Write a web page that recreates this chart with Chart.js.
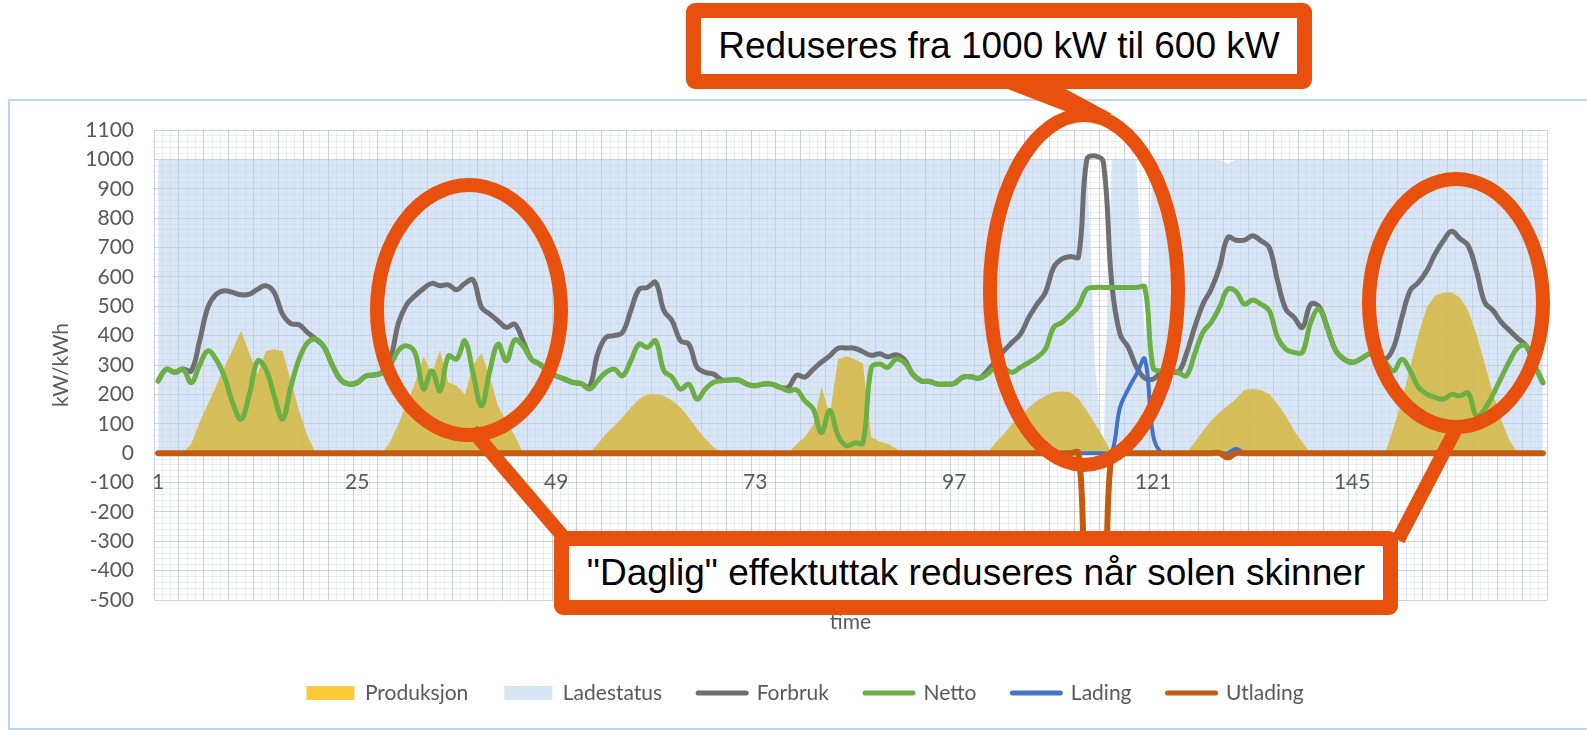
<!DOCTYPE html>
<html>
<head>
<meta charset="utf-8">
<script src="https://cdn.jsdelivr.net/npm/chart.js@4.4.1/dist/chart.umd.min.js"></script>
<style>
body { margin: 0; background: #fff; }
#wrap { position: relative; width: 1587px; height: 730px; overflow: hidden; background: #fff; }
#frame { position: absolute; left: 8px; top: 99px; width: 1600px; height: 627px; border: 2px solid #bdd5ee; }
#myChart { position: absolute; left: 0; top: 0; }
#marks { position: absolute; left: 0; top: 0; }
.callout { position: absolute; box-sizing: border-box; background: #fff; border: 15px solid #e8500e; border-radius: 9px;
  font-family: 'Liberation Sans', Arial, sans-serif; font-size: 37px; color: #000;
  display: flex; align-items: center; justify-content: center; white-space: nowrap; }
</style>
</head>
<body>
<div id="wrap">
  <div id="frame"></div>
  <canvas id="myChart" width="1587" height="730"></canvas>
  <svg id="marks" width="1587" height="730">
    <g fill="none" stroke="#e8500e" stroke-width="14">
      <ellipse cx="469" cy="310" rx="92" ry="125"/>
      <ellipse cx="1084" cy="290" rx="94" ry="175"/>
      <ellipse cx="1456" cy="303" rx="87" ry="124"/>
      <line x1="472" y1="430" x2="566" y2="540"/>
      <line x1="1458" y1="425" x2="1398" y2="540"/>
    </g>
    <polygon points="1000,86 1060,86 1112,114 1088,120" fill="#e8500e"/>
  </svg>
  <div class="callout" style="left:686px; top:3px; width:626px; height:86px;">Reduseres fra 1000 kW til 600 kW</div>
  <div class="callout" style="left:554px; top:531px; width:844px; height:84px;">"Daglig" effektuttak reduseres når solen skinner</div>
</div>
<script>
const hours = []
for (let i = 1; i <= 168; i++) hours.push(String(i))

const tickHours = ['1', '25', '49', '73', '97', '121', '145']

// one row per day, 24 hours each
const produksjon = [
    0, 0, 0, 0, 33, 104, 167, 229, 292, 354, 417, 340, 269, 348, 354, 348, 246, 144, 59, 0, 0, 0, 0, 0,
    0, 0, 0, 0, 40, 100, 170, 240, 330, 270, 350, 240, 230, 200, 300, 340, 260, 160, 110, 60, 0, 0, 0, 0,
    0, 0, 0, 0, 0, 30, 65, 92, 121, 155, 184, 199, 201, 195, 178, 155, 121, 82, 48, 19, 0, 0, 0, 0,
    0, 0, 0, 0, 0, 30, 55, 95, 225, 130, 320, 330, 320, 305, 55, 40, 32, 15, 0, 0, 0, 0, 0, 0,
    0, 0, 0, 0, 0, 36, 65, 99, 127, 155, 178, 195, 207, 210, 207, 185, 144, 99, 53, 0, 0, 0, 0, 0,
    0, 0, 0, 0, 0, 36, 76, 110, 138, 161, 184, 215, 218, 215, 201, 167, 127, 76, 36, 0, 0, 0, 0, 0,
    0, 0, 0, 0, 0, 87, 178, 292, 405, 496, 536, 547, 547, 530, 485, 405, 303, 201, 110, 42, 0, 0, 0, 0
]

const ladestatus = [
    1000, 1000, 1000, 1000, 1000, 1000, 1000, 1000, 1000, 1000, 1000, 1000, 1000, 1000, 1000, 1000, 1000, 1000, 1000, 1000, 1000, 1000, 1000, 1000,
    1000, 1000, 1000, 1000, 1000, 1000, 1000, 1000, 1000, 1000, 1000, 1000, 1000, 1000, 1000, 1000, 1000, 1000, 1000, 1000, 1000, 1000, 1000, 1000,
    1000, 1000, 1000, 1000, 1000, 1000, 1000, 1000, 1000, 1000, 1000, 1000, 1000, 1000, 1000, 1000, 1000, 1000, 1000, 1000, 1000, 1000, 1000, 1000,
    1000, 1000, 1000, 1000, 1000, 1000, 1000, 1000, 1000, 1000, 1000, 1000, 1000, 1000, 1000, 1000, 1000, 1000, 1000, 1000, 1000, 1000, 1000, 1000,
    1000, 1000, 1000, 1000, 1000, 1000, 1000, 1000, 1000, 1000, 1000, 1000, 1000, 1000, 1000, 1000, 1000, 300, 0, 1000, 1000, 1000, 1000, 380,
    1000, 1000, 1000, 1000, 1000, 1000, 1000, 1000, 1000, 985, 1000, 1000, 1000, 1000, 1000, 1000, 1000, 1000, 1000, 1000, 1000, 1000, 1000, 1000,
    1000, 1000, 1000, 1000, 1000, 1000, 1000, 1000, 1000, 1000, 1000, 1000, 1000, 1000, 1000, 1000, 1000, 1000, 1000, 1000, 1000, 1000, 1000, 1000
]

const forbruk = [
    246, 286, 275, 286, 280, 382, 496, 541, 553, 547, 539, 541, 558, 570, 547, 473, 441, 437, 411, 388, 362, 300, 250, 235,
    240, 262, 266, 275, 320, 445, 507, 536, 560, 578, 570, 573, 556, 578, 589, 496, 473, 450, 428, 439, 382, 320, 303, 280,
    263, 252, 241, 237, 225, 337, 394, 400, 411, 485, 558, 564, 581, 485, 450, 382, 371, 292, 275, 269, 249, 249, 249, 235,
    229, 235, 235, 224, 224, 265, 259, 285, 310, 331, 357, 358, 357, 345, 333, 338, 328, 335, 318, 269, 246, 244, 235, 235,
    237, 258, 260, 255, 280, 314, 348, 377, 405, 462, 507, 547, 632, 661, 669, 668, 1000, 1012, 990, 580, 405, 360, 292, 255,
    252, 275, 283, 275, 337, 428, 507, 558, 632, 734, 725, 725, 740, 723, 700, 587, 490, 462, 428, 507, 499, 428, 350, 320,
    309, 320, 337, 337, 320, 360, 462, 553, 581, 621, 678, 723, 755, 730, 706, 620, 513, 485, 445, 417, 390, 365, 300, 240
]

const netto = [
    246, 286, 275, 286, 240, 300, 348, 318, 260, 170, 116, 200, 314, 285, 195, 116, 225, 320, 375, 388, 362, 300, 250, 235,
    240, 262, 266, 272, 300, 350, 365, 340, 218, 280, 212, 330, 320, 382, 269, 161, 280, 371, 314, 385, 365, 320, 303, 280,
    263, 252, 241, 237, 218, 246, 275, 286, 263, 314, 371, 360, 382, 280, 258, 218, 235, 184, 218, 241, 246, 249, 249, 235,
    229, 235, 235, 224, 212, 215, 178, 150, 70, 145, 60, 25, 35, 35, 290, 303, 292, 320, 309, 269, 246, 244, 235, 235,
    237, 258, 260, 255, 269, 292, 289, 275, 292, 309, 326, 354, 428, 445, 470, 500, 558, 564, 564, 564, 564, 564, 564, 564,
    290, 280, 283, 275, 263, 337, 411, 445, 496, 558, 550, 507, 521, 507, 485, 394, 354, 343, 343, 445, 490, 425, 350, 320,
    309, 320, 337, 337, 309, 280, 320, 280, 224, 201, 190, 184, 200, 195, 205, 125, 150, 201, 258, 314, 360, 365, 300, 240
]

const lading = [
    0, 0, 0, 0, 0, 0, 0, 0, 0, 0, 0, 0, 0, 0, 0, 0, 0, 0, 0, 0, 0, 0, 0, 0,
    0, 0, 0, 0, 0, 0, 0, 0, 0, 0, 0, 0, 0, 0, 0, 0, 0, 0, 0, 0, 0, 0, 0, 0,
    0, 0, 0, 0, 0, 0, 0, 0, 0, 0, 0, 0, 0, 0, 0, 0, 0, 0, 0, 0, 0, 0, 0, 0,
    0, 0, 0, 0, 0, 0, 0, 0, 0, 0, 0, 0, 0, 0, 0, 0, 0, 0, 0, 0, 0, 0, 0, 0,
    0, 0, 0, 0, 0, 0, 0, 0, 0, 0, 0, 0, 0, 0, 0, 0, 0, 0, 0, 0, 155, 218, 269, 320,
    60, 0, 0, 0, 0, 0, 0, 0, 0, 0, 15, 0, 0, 0, 0, 0, 0, 0, 0, 0, 0, 0, 0, 0,
    0, 0, 0, 0, 0, 0, 0, 0, 0, 0, 0, 0, 0, 0, 0, 0, 0, 0, 0, 0, 0, 0, 0, 0
]

const utlading = [
    0, 0, 0, 0, 0, 0, 0, 0, 0, 0, 0, 0, 0, 0, 0, 0, 0, 0, 0, 0, 0, 0, 0, 0,
    0, 0, 0, 0, 0, 0, 0, 0, 0, 0, 0, 0, 0, 0, 0, 0, 0, 0, 0, 0, 0, 0, 0, 0,
    0, 0, 0, 0, 0, 0, 0, 0, 0, 0, 0, 0, 0, 0, 0, 0, 0, 0, 0, 0, 0, 0, 0, 0,
    0, 0, 0, 0, 0, 0, 0, 0, 0, 0, 0, 0, 0, 0, 0, 0, 0, 0, 0, 0, 0, 0, 0, 0,
    0, 0, 0, 0, 0, 0, 0, 0, 0, 0, 0, 0, 0, 0, 0, 0, -450, -450, -450, 0, 0, 0, 0, 0,
    0, 0, 0, 0, 0, 0, 0, 0, 0, -15, 0, 0, 0, 0, 0, 0, 0, 0, 0, 0, 0, 0, 0, 0,
    0, 0, 0, 0, 0, 0, 0, 0, 0, 0, 0, 0, 0, 0, 0, 0, 0, 0, 0, 0, 0, 0, 0, 0
]

const textColor = '#595959'
const font = { family: 'Lato', size: 21 }
const gridMajor = 'rgba(140,150,165,0.42)'
const gridMinor = 'rgba(160,170,185,0.2)'

const legendLook = [
    { fillStyle: '#fccb3c', strokeStyle: '#fccb3c', lineWidth: 0, pointStyle: 'rect' },
    { fillStyle: '#d6e5f4', strokeStyle: '#d6e5f4', lineWidth: 0, pointStyle: 'rect' },
    { fillStyle: '#6f6f72', strokeStyle: '#6f6f72', lineWidth: 5, pointStyle: 'line' },
    { fillStyle: '#6cb045', strokeStyle: '#6cb045', lineWidth: 5, pointStyle: 'line' },
    { fillStyle: '#4472c4', strokeStyle: '#4472c4', lineWidth: 5, pointStyle: 'line' },
    { fillStyle: '#c55a11', strokeStyle: '#c55a11', lineWidth: 5, pointStyle: 'line' }
]

const lineSet = (label, data, color, width, order) => ({
    label: label,
    data: data,
    borderColor: color,
    backgroundColor: color,
    borderWidth: width,
    pointRadius: 0,
    tension: 0.4,
    fill: false,
    borderCapStyle: 'round',
    borderJoinStyle: 'round',
    order: order
})

const ctx = document.getElementById('myChart').getContext('2d')
const myChart = new Chart(ctx, {
    type: 'line',
    data: {
        labels: hours,
        datasets: [{
            label: 'Produksjon',
            data: produksjon,
            borderColor: 'rgba(0,0,0,0)',
            borderWidth: 0,
            backgroundColor: 'rgba(214,186,70,0.88)',
            pointRadius: 0,
            tension: 0,
            fill: 'origin',
            order: 5
        }, {
            label: 'Ladestatus',
            data: ladestatus,
            borderColor: 'rgba(0,0,0,0)',
            borderWidth: 0,
            backgroundColor: 'rgba(185,210,238,0.55)',
            pointRadius: 0,
            tension: 0,
            fill: 'origin',
            order: 6
        },
        lineSet('Forbruk', forbruk, '#6f6f72', 5, 4),
        lineSet('Netto', netto, '#6cb045', 5, 3),
        lineSet('Lading', lading, '#4472c4', 4, 2),
        lineSet('Utlading', utlading, '#c55a11', 6, 1)]
    },
    options: {
        responsive: false,
        animation: false,
        devicePixelRatio: 1,
        layout: { padding: { left: 63, right: 40, top: 130, bottom: 16.5 } },
        scales: {
            x: {
                type: 'category',
                position: { y: 0 },
                offset: true,
                border: { display: false },
                grid: {
                    offset: true,
                    drawTicks: false,
                    color: (c) => (c.index === undefined || c.index % 3 === 0) ? gridMajor : gridMinor
                },
                ticks: {
                    autoSkip: false,
                    maxRotation: 0,
                    padding: 17,
                    color: textColor,
                    font: font,
                    callback: (v, i) => tickHours.includes(hours[i]) ? hours[i] : ''
                }
            },
            xt: {
                type: 'linear',
                position: 'bottom',
                border: { display: false },
                grid: { display: false },
                ticks: { display: false },
                title: { display: true, text: 'time', color: textColor, font: font, padding: { top: 0, bottom: 12 } },
                afterFit: (s) => { s.height = 46.5 }
            },
            y: {
                min: -500,
                max: 1100,
                border: { display: false },
                grid: {
                    drawTicks: false,
                    color: (c) => Math.round(c.tick.value) % 100 === 0 ? gridMajor : gridMinor
                },
                ticks: {
                    stepSize: 20,
                    autoSkip: false,
                    padding: 20,
                    color: textColor,
                    font: font,
                    callback: (v) => Math.round(v) % 100 === 0 ? v : ''
                },
                title: { display: true, text: 'kW/kWh', color: textColor, font: font, padding: { top: -14.6, bottom: 0 } },
                afterFit: (s) => { s.width = 91 }
            }
        },
        plugins: {
            tooltip: { enabled: false },
            legend: {
                display: true,
                position: 'bottom',
                align: 'center',
                labels: {
                    usePointStyle: true,
                    pointStyleWidth: 48,
                    boxHeight: 14,
                    padding: 36,
                    color: textColor,
                    font: font,
                    generateLabels: (chart) => chart.data.datasets.map((d, i) => Object.assign({
                        text: d.label,
                        datasetIndex: i,
                        hidden: false,
                        lineCap: 'round',
                        fontColor: textColor
                    }, legendLook[i])),
                    sort: (a, b) => a.datasetIndex - b.datasetIndex
                }
            }
        }
    }
})
</script>
</body>
</html>
